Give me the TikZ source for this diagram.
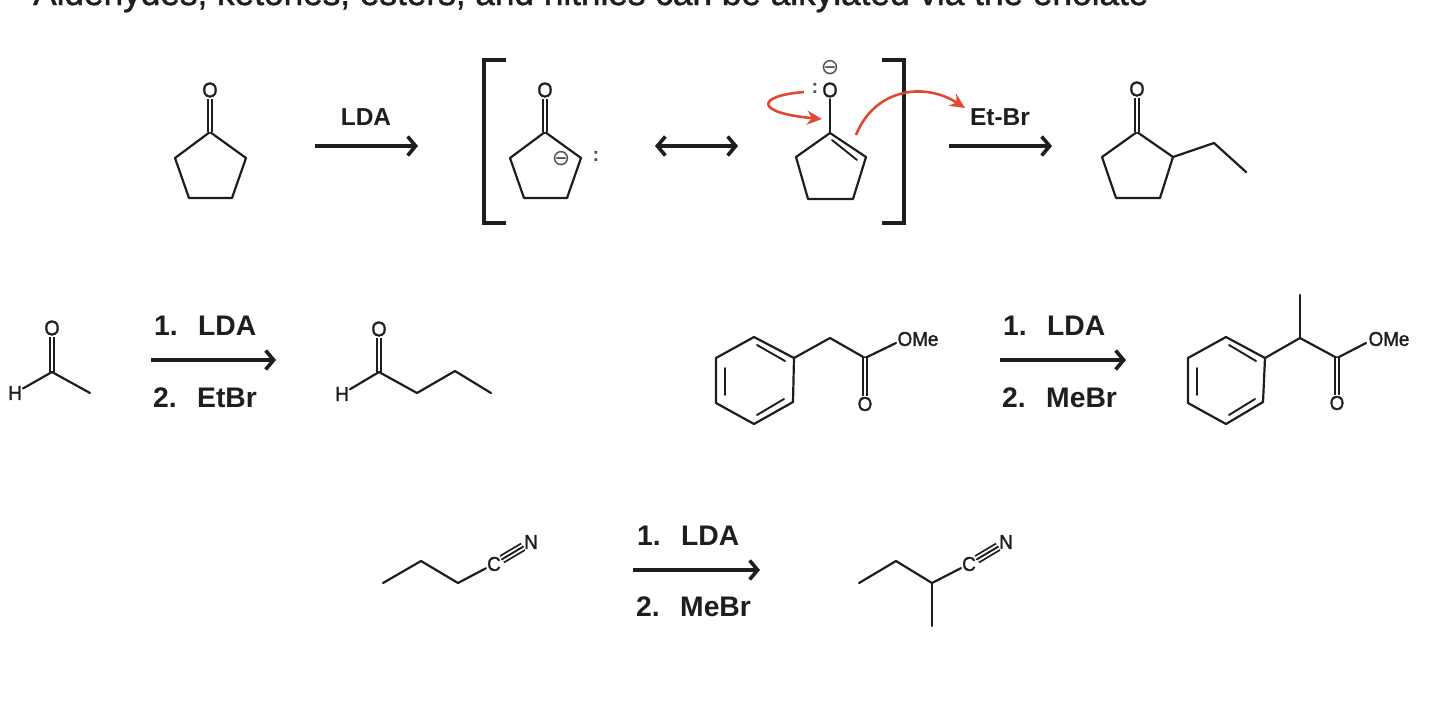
\documentclass[tikz,border=0pt]{standalone}
\usepackage{fontspec}
\setmainfont{Liberation Sans}
\newfontfamily\atomfont[FakeBold=1.4,FakeStretch=0.94]{Liberation Sans}
\newfontfamily\titlefont[FakeBold=1.3]{Liberation Sans}
\newfontfamily\symfont{DejaVu Sans}
\usetikzlibrary{arrows.meta}
\definecolor{ink}{HTML}{1E1E1E}
\definecolor{curly}{HTML}{DE4A32}
\definecolor{soft}{HTML}{505050}
\tikzset{
  x=1pt,y=-1pt,
  tipx/.tip={Straight Barb[length=8pt,width=19pt,line width=3.6pt]},
  bond/.style={draw=ink,line width=2.2pt,line join=round,line cap=round},
  dbl/.style={draw=ink,line width=1.9pt,double=white,double distance=2.8pt},
  trip/.style={draw=ink,line width=1.8pt,double=white,double distance=5.6pt},
  atom/.style={font=\atomfont\fontsize{21}{21}\selectfont,text=ink,inner sep=1.5pt},
  atoms/.style={font=\atomfont\fontsize{20}{20}\selectfont,text=ink,inner sep=1pt},
  reagent/.style={font=\bfseries\fontsize{28.3}{28.3}\selectfont,text=ink,anchor=west,inner sep=0pt},
  reagentS/.style={font=\bfseries\fontsize{24.5}{24.5}\selectfont,text=ink,inner sep=0pt},
  rxn/.style={draw=ink,line width=3.2pt,-tipx},
  res/.style={draw=ink,line width=3.2pt,tipx-tipx},
  brk/.style={draw=ink,line width=3.2pt,line join=miter},
  push/.style={draw=curly,line width=2.6pt,-{Stealth[length=15pt,width=14pt]}},
  chg/.style={text=soft,inner sep=0pt,font=\symfont\fontsize{22}{22}\selectfont},
  lp/.style={text=soft,font=\bfseries\fontsize{20}{20}\selectfont,inner sep=0pt},
  inner/.style={draw=ink,line width=1.9pt,line cap=round},
}
\newcommand{\gap}{\hspace{0.72em}}
\begin{document}
\begin{tikzpicture}
\useasboundingbox (0,0) rectangle (1440,705);
\node (title) [anchor=base west,inner sep=0pt,text=ink,font=\titlefont\fontsize{35.2}{36}\selectfont] at (33,5) {Aldehydes, ketones, esters, and nitriles can be alkylated via the enolate};

% Top row: cyclopentanone
\coordinate (a1) at (210,132); \coordinate (a2) at (246,158); \coordinate (a3) at (232,198);
\coordinate (a4) at (189,198); \coordinate (a5) at (175,158);
\node[atom] (aO) at (210,90) {O};
\draw[bond] (a1)--(a2)--(a3)--(a4)--(a5)--cycle;
\draw[dbl] (a1)--(aO);
\coordinate (r1s) at (315,146); \coordinate (r1e) at (418,146);
\draw[rxn] (r1s)--(r1e);
\node[reagentS] (r1t) at (366,117) {LDA};

% Left bracket
\coordinate (bl1) at (506,60); \coordinate (bl2) at (484,60); \coordinate (bl3) at (484,223); \coordinate (bl4) at (506,223);
\draw[brk] (bl1)--(bl2)--(bl3)--(bl4);

% Carbanion form
\coordinate (b1) at (545,132); \coordinate (b2) at (581,158); \coordinate (b3) at (567,198);
\coordinate (b4) at (524,198); \coordinate (b5) at (510,158);
\node[atom] (bO) at (545,90) {O};
\draw[bond] (b1)--(b2)--(b3)--(b4)--(b5)--cycle;
\draw[dbl] (b1)--(bO);
\node[chg] (bm) at (561,159) {⊖};
\node[lp] (bl) at (596,156) {:};

\coordinate (r2s) at (655,146); \coordinate (r2e) at (738,146);
\draw[res] (r2s)--(r2e);

% Enolate form
\coordinate (c1) at (830,133); \coordinate (c2) at (866,157); \coordinate (c3) at (853,199);
\coordinate (c4) at (808,199); \coordinate (c5) at (796,157);
\coordinate (c1i) at (832,140); \coordinate (c2i) at (857,160);
\node[atom] (cO) at (830,90) {O};
\draw[bond] (c1)--(c2)--(c3)--(c4)--(c5)--cycle;
\draw[bond] (c1)--(cO);
\draw[inner] (c1i)--(c2i);
\node[chg] (cm) at (830,68) {⊖};
\node[lp] (cl) at (815,88) {:};

% Right bracket
\coordinate (br1) at (882,60); \coordinate (br2) at (904,60); \coordinate (br3) at (904,223); \coordinate (br4) at (882,223);
\draw[brk] (br1)--(br2)--(br3)--(br4);

% Curly arrows
\coordinate (p1s) at (804,92); \coordinate (p1e) at (822,119);
\draw[push] (p1s) .. controls (755,96) and (755,113) .. (p1e);
\coordinate (p2s) at (856,135); \coordinate (p2e) at (965,108);
\draw[push] (p2s) .. controls (875,88) and (925,82) .. (p2e);

\node[reagentS] (r3t) at (1000,117) {Et-Br};
\coordinate (r3s) at (949,146); \coordinate (r3e) at (1052,146);
\draw[rxn] (r3s)--(r3e);

% Ethyl product
\coordinate (d1) at (1137,132); \coordinate (d2) at (1173,157); \coordinate (d3) at (1160,198);
\coordinate (d4) at (1116,198); \coordinate (d5) at (1102,157);
\coordinate (d6) at (1214,143); \coordinate (d7) at (1246,172);
\node[atom] (dO) at (1137,89) {O};
\draw[bond] (d1)--(d2)--(d3)--(d4)--(d5)--cycle;
\draw[bond] (d2)--(d6)--(d7);
\draw[dbl] (d1)--(dO);

% Row 2, aldehyde
\coordinate (e1) at (52,372); \coordinate (e2) at (90,393);
\node[atom] (eO) at (52,328) {O};
\node[atoms] (eH) at (15,393) {H};
\draw[dbl] (e1)--(eO);
\draw[bond] (eH)--(e1)--(e2);
\coordinate (r4s) at (151,360); \coordinate (r4e) at (276,360);
\draw[rxn] (r4s)--(r4e);
\node[reagent] (r4a) at (154,326) {1.\gap LDA};
\node[reagent] (r4b) at (153,398) {2.\gap EtBr};
\coordinate (f1) at (379,372); \coordinate (f2) at (417,393); \coordinate (f3) at (455,371); \coordinate (f4) at (491,393);
\node[atom] (fO) at (379,329) {O};
\node[atoms] (fH) at (342,394) {H};
\draw[dbl] (f1)--(fO);
\draw[bond] (fH)--(f1)--(f2)--(f3)--(f4);

% Row 2, ester
\coordinate (g1) at (754,337); \coordinate (g2) at (794,358); \coordinate (g3) at (793,402);
\coordinate (g4) at (754,424); \coordinate (g5) at (716,403); \coordinate (g6) at (716,358);
\coordinate (g7) at (830,338); \coordinate (g8) at (865,358); \coordinate (g9) at (896,343);
\node[atoms] (gO) at (865,404) {O};
\node[atoms] (gM) at (918,339) {OMe};
\draw[bond] (g1)--(g2)--(g3)--(g4)--(g5)--(g6)--cycle;
\draw[bond] (g2)--(g7)--(g8)--(g9);
\draw[dbl] (g8)--(gO);
\coordinate (gi1) at (757,345); \coordinate (gi2) at (785,361); \coordinate (gi3) at (784,399);
\coordinate (gi4) at (757,415); \coordinate (gi5) at (725,368); \coordinate (gi6) at (725,395);
\draw[inner] (gi1)--(gi2) (gi3)--(gi4) (gi5)--(gi6);
\coordinate (r5s) at (1000,360); \coordinate (r5e) at (1126,360);
\draw[rxn] (r5s)--(r5e);
\node[reagent] (r5a) at (1003,326) {1.\gap LDA};
\node[reagent] (r5b) at (1002,398) {2.\gap MeBr};
\coordinate (h1) at (1226,337); \coordinate (h2) at (1265,358); \coordinate (h3) at (1263,402);
\coordinate (h4) at (1226,424); \coordinate (h5) at (1188,403); \coordinate (h6) at (1188,358);
\coordinate (h7) at (1300,338); \coordinate (h8) at (1337,358); \coordinate (h9) at (1300,295); \coordinate (h10) at (1366,343);
\node[atoms] (hO) at (1337,403) {O};
\node[atoms] (hM) at (1389,339) {OMe};
\draw[bond] (h1)--(h2)--(h3)--(h4)--(h5)--(h6)--cycle;
\draw[bond] (h2)--(h7)--(h8)--(h10);
\draw[bond] (h7)--(h9);
\draw[dbl] (h8)--(hO);
\coordinate (hi1) at (1229,345); \coordinate (hi2) at (1256,361); \coordinate (hi3) at (1255,399);
\coordinate (hi4) at (1229,415); \coordinate (hi5) at (1197,368); \coordinate (hi6) at (1197,395);
\draw[inner] (hi1)--(hi2) (hi3)--(hi4) (hi5)--(hi6);

% Row 3, nitriles
\coordinate (i1) at (383,583); \coordinate (i2) at (421,561); \coordinate (i3) at (458,583);
\node[atoms] (iC) at (494,564) {C};
\node[atoms] (iN) at (531,542) {N};
\draw[bond] (i1)--(i2)--(i3)--(iC);
\draw[trip] (iC)--(iN);
\draw[inner] (iC)--(iN);
\coordinate (r6s) at (633,570); \coordinate (r6e) at (760,570);
\draw[rxn] (r6s)--(r6e);
\node[reagent] (r6a) at (637,536) {1.\gap LDA};
\node[reagent] (r6b) at (636,607) {2.\gap MeBr};
\coordinate (j1) at (859,583); \coordinate (j2) at (896,561); \coordinate (j3) at (932,583); \coordinate (j4) at (932,626);
\node[atoms] (jC) at (969,564) {C};
\node[atoms] (jN) at (1006,542) {N};
\draw[bond] (j1)--(j2)--(j3)--(jC);
\draw[bond] (j3)--(j4);
\draw[trip] (jC)--(jN);
\draw[inner] (jC)--(jN);
\end{tikzpicture}
\end{document}
